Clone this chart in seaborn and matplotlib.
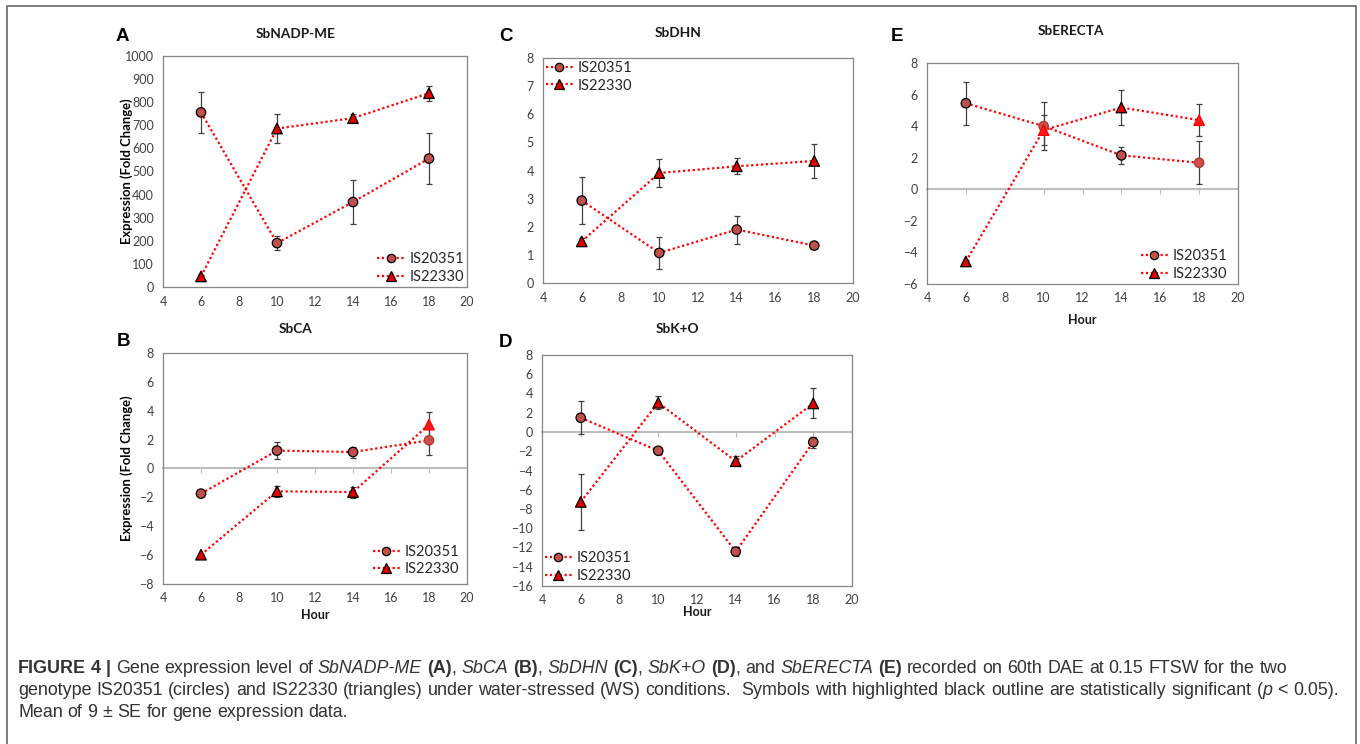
import re
import numpy as np
import pandas as pd
import matplotlib
matplotlib.use("Agg")
import matplotlib.pyplot as plt
import seaborn as sns
from matplotlib.lines import Line2D
from matplotlib.patches import Rectangle

# ---------------- data ----------------
hours = [6, 10, 14, 18]
genotypes = ["IS20351", "IS22330"]

# (A) SbNADP-ME
a_is20351 = [756, 190, 368, 556]
a_is20351_se = [88, 30, 97, 112]
a_is22330 = [46, 686, 731, 839]
a_is22330_se = [4, 62, 17, 33]
a_sig20351 = [True, True, True, True]
a_sig22330 = [True, True, True, True]

# (B) SbCA
b_is20351 = [-1.74, 1.24, 1.14, 1.95]
b_is20351_se = [0.06, 0.60, 0.38, 1.04]
b_is22330 = [-5.97, -1.58, -1.63, 3.04]
b_is22330_se = [0.05, 0.38, 0.38, 0.85]
b_sig20351 = [True, True, True, False]
b_sig22330 = [True, True, True, False]

# (C) SbDHN
c_is20351 = [2.93, 1.07, 1.90, 1.33]
c_is20351_se = [0.84, 0.58, 0.50, 0.05]
c_is22330 = [1.48, 3.91, 4.15, 4.34]
c_is22330_se = [0.12, 0.49, 0.28, 0.62]
c_sig20351 = [True, True, True, True]
c_sig22330 = [True, True, True, True]

# (D) SbK+O
d_is20351 = [1.48, -1.95, -12.43, -1.05]
d_is20351_se = [1.72, 0.25, 0.50, 0.57]
d_is22330 = [-7.26, 3.04, -3.03, 2.97]
d_is22330_se = [2.90, 0.65, 0.50, 1.55]
d_sig20351 = [True, True, True, True]
d_sig22330 = [True, True, True, True]

# (E) SbERECTA
e_is20351 = [5.45, 4.00, 2.15, 1.68]
e_is20351_se = [1.37, 1.50, 0.55, 1.37]
e_is22330 = [-4.57, 3.75, 5.18, 4.38]
e_is22330_se = [0.10, 0.97, 1.10, 1.03]
e_sig20351 = [True, False, True, False]
e_sig22330 = [True, False, True, False]

titles = ["SbNADP-ME", "SbCA", "SbDHN", "SbK+O", "SbERECTA"]
letters = ["A", "B", "C", "D", "E"]
ylabel_text = "Expression (Fold Change)"
xlabel_text = "Hour"
xticks = [4, 6, 8, 10, 12, 14, 16, 18, 20]

# ---------------- style ----------------
sns.set_theme(style="white")
plt.rcParams["font.family"] = ["Lato", "DejaVu Sans"]

W, H = 1360, 744
fig = plt.figure(figsize=(W / 100, H / 100), dpi=100)
fig.patch.set_facecolor("white")


def fx(x):
    return x / W


def fy(y):
    return 1 - y / H


def axes_px(x0, y0, x1, y1):
    return fig.add_axes([fx(x0), fy(y1), (x1 - x0) / W, (y1 - y0) / H])


LINE_RED = "#FF0000"
SPINE = "#868686"
TICKLAB = "#404040"
ERR = "#404040"
face_sig = {"IS20351": "#C0504D", "IS22330": "#E00000"}
face_ns = {"IS20351": "#CC4F4C", "IS22330": "#FF1A1A"}
edge_ns = {"IS20351": "#A53A37", "IS22330": "#FF0000"}
markers = {"IS20351": "o", "IS22330": "^"}
msize = {"IS20351": 46, "IS22330": 58}

panels = {
    "A": dict(rect=(163, 56, 467, 287), ylim=(0, 1000), ystep=100,
              vals=(a_is20351, a_is22330), ses=(a_is20351_se, a_is22330_se),
              sig=(a_sig20351, a_sig22330), zero=False, ylabel=True, xlabel=False,
              title_pos=(296, 38), letter_pos=(116, 41),
              leg=dict(loc="lower right", bbox=(1.0, 0.0))),
    "B": dict(rect=(163, 353, 467, 584), ylim=(-8, 8), ystep=2,
              vals=(b_is20351, b_is22330), ses=(b_is20351_se, b_is22330_se),
              sig=(b_sig20351, b_sig22330), zero=True, ylabel=True, xlabel=True,
              title_pos=(296, 333), letter_pos=(117, 346), xlab_y=-0.108,
              leg=dict(loc="lower right", bbox=(0.985, 0.02))),
    "C": dict(rect=(543, 58, 853, 283), ylim=(0, 8), ystep=1,
              vals=(c_is20351, c_is22330), ses=(c_is20351_se, c_is22330_se),
              sig=(c_sig20351, c_sig22330), zero=False, ylabel=False, xlabel=False,
              title_pos=(678, 37), letter_pos=(499, 41),
              leg=dict(loc="upper left", bbox=(0.0, 1.0))),
    "D": dict(rect=(542, 355, 852, 586), ylim=(-16, 8), ystep=2,
              vals=(d_is20351, d_is22330), ses=(d_is20351_se, d_is22330_se),
              sig=(d_sig20351, d_sig22330), zero=True, ylabel=False, xlabel=True,
              title_pos=(677, 333), letter_pos=(499, 347), xlab_y=-0.088,
              leg=dict(loc="lower left", bbox=(0.0, 0.0))),
    "E": dict(rect=(927, 63, 1238, 284), ylim=(-6, 8), ystep=2,
              vals=(e_is20351, e_is22330), ses=(e_is20351_se, e_is22330_se),
              sig=(e_sig20351, e_sig22330), zero=True, ylabel=False, xlabel=True,
              title_pos=(1071, 35), letter_pos=(891, 41), xlab_y=-0.135,
              leg=dict(loc="lower right", bbox=(0.975, 0.0))),
}

legend_handles = [
    Line2D([], [], color=LINE_RED, linestyle=(0, (1, 1.2)), lw=1.6, marker="o",
           markersize=6, markerfacecolor=face_sig["IS20351"], markeredgecolor="black",
           markeredgewidth=0.9),
    Line2D([], [], color=LINE_RED, linestyle=(0, (1, 1.2)), lw=1.6, marker="^",
           markersize=6.5, markerfacecolor=face_sig["IS22330"], markeredgecolor="black",
           markeredgewidth=0.9),
]

for key, p in panels.items():
    ax = axes_px(*p["rect"])
    ax.set_facecolor("white")
    rows = []
    for gi, g in enumerate(genotypes):
        for h, v, s, sg in zip(hours, p["vals"][gi], p["ses"][gi], p["sig"][gi]):
            rows.append(dict(hour=h, value=v, se=s, genotype=g,
                             sig="sig" if sg else "ns"))
    df = pd.DataFrame(rows)

    for g in genotypes:
        sub = df[df.genotype == g].reset_index(drop=True)
        sns.lineplot(data=sub, x="hour", y="value", ax=ax, color=LINE_RED,
                     linestyle=(0, (1, 1.2)), lw=1.6, errorbar=None, sort=False,
                     legend=False, zorder=2)
        ax.errorbar(sub.hour, sub.value, yerr=sub.se, fmt="none", ecolor=ERR,
                    elinewidth=0.9, capsize=2.3, capthick=0.9, zorder=3)
        edges = ["black" if s == "sig" else edge_ns[g] for s in sub.sig]
        sns.scatterplot(data=sub, x="hour", y="value", hue="sig",
                        palette={"sig": face_sig[g], "ns": face_ns[g]},
                        marker=markers[g], s=msize[g], edgecolor=edges,
                        linewidth=0.9, legend=False, ax=ax, zorder=4)

    ax.set_xlim(4, 20)
    ax.set_ylim(*p["ylim"])
    ax.set_xticks(xticks)
    ax.set_yticks(np.arange(p["ylim"][0], p["ylim"][1] + p["ystep"] / 2, p["ystep"]))
    for sp in ax.spines.values():
        sp.set_visible(True)
        sp.set_color(SPINE)
        sp.set_linewidth(0.9)
    ax.tick_params(axis="both", direction="out", length=4, width=0.8, color=SPINE,
                   labelcolor=TICKLAB, labelsize=9, pad=2.5)
    if p["zero"]:
        ax.tick_params(axis="x", length=0, pad=6)
        try:
            sec = ax.secondary_xaxis(0, transform=ax.transData)
            sec.set_xticks(xticks)
            sec.tick_params(axis="x", direction="out", length=3.5, width=0.8,
                            color="#BDBDBD", labelbottom=False, labeltop=False)
            for name, sp in sec.spines.items():
                sp.set_color("#BDBDBD")
                sp.set_linewidth(1.5)
        except Exception:
            ax.axhline(0, color="#BDBDBD", lw=1.5, zorder=1)

    ax.set_xlabel("")
    ax.set_ylabel("")
    if p["ylabel"]:
        ax.set_ylabel(ylabel_text, fontsize=9.4, fontweight="bold", color="black")
        ax.yaxis.set_label_coords(-0.099, 0.5)
    if p["xlabel"]:
        ax.set_xlabel(xlabel_text, fontsize=9, fontweight="bold", color="#1a1a1a",
                      va="top")
        ax.xaxis.set_label_coords(0.5, p["xlab_y"])

    leg = ax.legend(legend_handles, genotypes, loc=p["leg"]["loc"],
                    bbox_to_anchor=p["leg"]["bbox"], frameon=False, fontsize=10.5,
                    handlelength=1.85, handletextpad=0.35, labelspacing=0.25,
                    borderaxespad=0.0, borderpad=0.2)
    for t in leg.get_texts():
        t.set_color("#262626")

    tx, ty = p["title_pos"]
    fig.text(fx(tx), fy(ty), titles[letters.index(key)], ha="center", va="baseline",
             fontsize=9.8, fontweight="bold", color="#1a1a1a")
    lx, ly = p["letter_pos"]
    fig.text(fx(lx), fy(ly), key, ha="left", va="baseline", fontsize=13.5,
             fontweight="bold", color="black", family=["Liberation Sans", "DejaVu Sans"])

# ---------------- outer frame ----------------
fig.patches.append(Rectangle((fx(7), fy(752)), (1356 - 7) / W, (752 - 6) / H,
                             transform=fig.transFigure, fill=False,
                             edgecolor="#5a5a5a", lw=1.1, clip_on=False))

# ---------------- caption ----------------
CAP_FAM = ["Liberation Sans", "DejaVu Sans"]
CAP_COL = "#333333"
styles = {
    "n": dict(fontweight="normal", fontstyle="normal"),
    "b": dict(fontweight="bold", fontstyle="normal"),
    "i": dict(fontweight="normal", fontstyle="italic"),
}
cap_line1 = [("FIGURE 4 | ", "b"), ("Gene expression level of ", "n"), ("SbNADP-ME", "i"),
             (" ", "n"), ("(A)", "b"), (", ", "n"), ("SbCA", "i"), (" ", "n"), ("(B)", "b"),
             (", ", "n"), ("SbDHN", "i"), (" ", "n"), ("(C)", "b"), (", ", "n"),
             ("SbK+O", "i"), (" ", "n"), ("(D)", "b"), (", and ", "n"), ("SbERECTA", "i"),
             (" ", "n"), ("(E)", "b"),
             (" recorded on 60th DAE at 0.15 FTSW for the two", "n")]
cap_line2 = [("genotype IS20351 (circles) and IS22330 (triangles) under water-stressed (WS) "
              "conditions.  Symbols with highlighted black outline are statistically "
              "significant (", "n"), ("p", "i"), (" < 0.05).", "n")]
cap_line3 = [("Mean of 9 \u00b1 SE for gene expression data.", "n")]

renderer = fig.canvas.get_renderer()


def text_w(s, size, st):
    t = fig.text(0, 0, s, fontsize=size, family=CAP_FAM, **styles[st])
    w = t.get_window_extent(renderer).width
    t.remove()
    return w


def draw_line(x0, y0, segs, size, draw=True):
    x = x0
    made = []
    for text, st in segs:
        sp = text_w("a a", size, st) - text_w("aa", size, st)
        for tok in re.findall(r"\s+|\S+", text):
            if tok.isspace():
                x += len(tok) * sp
            else:
                t = fig.text(fx(x), fy(y0), tok, fontsize=size, family=CAP_FAM,
                             color=CAP_COL, va="baseline", ha="left", **styles[st])
                x += t.get_window_extent(renderer).width
                made.append(t)
    if not draw:
        for t in made:
            t.remove()
    return x


s0 = 11.0
end = draw_line(18, 675, cap_line1, s0, draw=False)
cap_size = s0 * (1288 - 18) / (end - 18)
draw_line(18, 673, cap_line1, cap_size)
draw_line(18, 695, cap_line2, cap_size)
draw_line(18, 717, cap_line3, cap_size)

fig.savefig("out.png", dpi=100, facecolor="white")
